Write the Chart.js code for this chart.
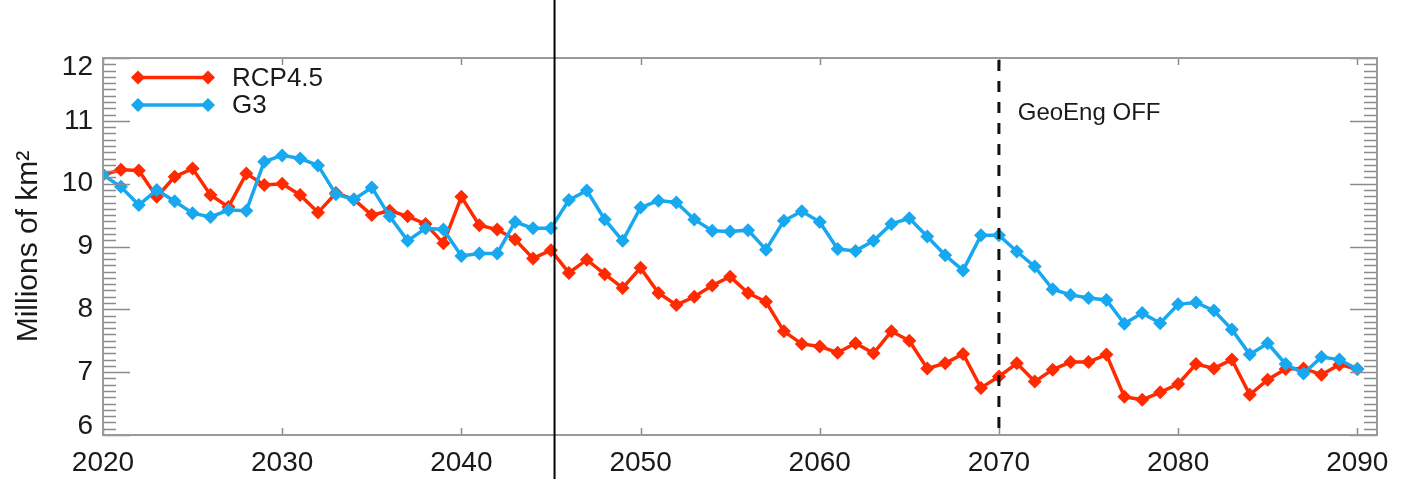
<!DOCTYPE html>
<html>
<head>
<meta charset="utf-8">
<script src="https://cdn.jsdelivr.net/npm/chart.js@4/dist/chart.umd.min.js"></script>
<style>
html,body{margin:0;padding:0;background:#fff;}
#wrap{width:1408px;height:479px;position:relative;}
</style>
</head>
<body>
<div id="wrap"><canvas id="c" width="1408" height="479"></canvas></div>
<script>
const years = [2020,2021,2022,2023,2024,2025,2026,2027,2028,2029,
  2030,2031,2032,2033,2034,2035,2036,2037,2038,2039,
  2040,2041,2042,2043,2044,2045,2046,2047,2048,2049,
  2050,2051,2052,2053,2054,2055,2056,2057,2058,2059,
  2060,2061,2062,2063,2064,2065,2066,2067,2068,2069,
  2070,2071,2072,2073,2074,2075,2076,2077,2078,2079,
  2080,2081,2082,2083,2084,2085,2086,2087,2088,2089,2090];

const rcp45 = [10.14,10.22,10.21,9.79,10.11,10.24,9.82,9.63,10.16,9.98,
  10.00,9.82,9.54,9.85,9.75,9.50,9.57,9.48,9.36,9.05,
  9.79,9.34,9.27,9.11,8.81,8.94,8.58,8.79,8.56,8.34,
  8.66,8.26,8.07,8.20,8.38,8.52,8.26,8.12,7.65,7.45,
  7.41,7.31,7.46,7.30,7.65,7.50,7.06,7.14,7.29,6.75,
  6.93,7.14,6.85,7.04,7.16,7.16,7.28,6.61,6.56,6.68,
  6.81,7.13,7.06,7.20,6.64,6.88,7.05,7.06,6.96,7.12,7.05];

const g3 = [10.14,9.95,9.66,9.90,9.72,9.53,9.47,9.58,9.57,10.35,
  10.45,10.40,10.29,9.83,9.75,9.94,9.48,9.09,9.29,9.27,
  8.85,8.89,8.89,9.39,9.29,9.29,9.74,9.89,9.43,9.09,
  9.62,9.73,9.70,9.43,9.25,9.24,9.26,8.95,9.41,9.56,
  9.39,8.96,8.93,9.09,9.36,9.45,9.16,8.86,8.62,9.18,
  9.18,8.92,8.68,8.32,8.23,8.18,8.15,7.77,7.94,7.78,
  8.08,8.11,7.98,7.68,7.28,7.46,7.13,6.98,7.24,7.20,7.05];

const xTickLabels = [2020,2030,2040,2050,2060,2070,2080,2090];
const yTickLabels = [6,7,8,9,10,11,12];
const seriesNames = ['RCP4.5','G3'];
const geoEngYear = 2070;
const geoEngText = 'GeoEng OFF';
const markerYear = 2045.2;

const RED = '#ff2a00';
const BLUE = '#17a8ef';
const FONT = "'Liberation Sans', Arial, Helvetica, sans-serif";

function pts(vals){ return years.map((y,i)=>({x:y, y:vals[i]})); }

const framePlugin = {
  id: 'frame',
  afterDatasetsDraw(chart){
    const ctx = chart.ctx, a = chart.chartArea;
    const xs = chart.scales.x, ys = chart.scales.y;
    ctx.save();
    ctx.strokeStyle = '#8c8c8c';
    ctx.lineWidth = 1.5;
    for (let k = 60; k <= 120; k++) {
      const v = k/10;
      const py = Math.round(ys.getPixelForValue(v)) + 0.5;
      const major = (k % 10 === 0);
      const len = major ? 27 : 13;
      ctx.beginPath();
      ctx.moveTo(a.left, py); ctx.lineTo(a.left + len, py);
      ctx.moveTo(a.right, py); ctx.lineTo(a.right - len, py);
      ctx.stroke();
    }
    xTickLabels.forEach(v => {
      const px = Math.round(xs.getPixelForValue(v)) + 0.5;
      ctx.beginPath();
      ctx.moveTo(px, a.bottom); ctx.lineTo(px, a.bottom - 7);
      ctx.moveTo(px, a.top); ctx.lineTo(px, a.top + 7);
      ctx.stroke();
    });
    ctx.strokeStyle = '#9a9a9a';
    ctx.lineWidth = 2;
    ctx.strokeRect(a.left, a.top, a.right - a.left, a.bottom - a.top);
    const gx = xs.getPixelForValue(geoEngYear);
    ctx.strokeStyle = '#111';
    ctx.lineWidth = 3;
    ctx.setLineDash([11, 10]);
    ctx.beginPath();
    ctx.moveTo(gx, a.top + 2); ctx.lineTo(gx, a.bottom);
    ctx.stroke();
    ctx.setLineDash([]);
    ctx.fillStyle = '#1a1a1a';
    ctx.font = '24px ' + FONT;
    ctx.textAlign = 'left';
    ctx.textBaseline = 'middle';
    ctx.fillText(geoEngText, xs.getPixelForValue(2071.05), ys.getPixelForValue(11.12));
    const items = [[RED, seriesNames[0]], [BLUE, seriesNames[1]]];
    items.forEach((it, i) => {
      const ly = a.top + 19.5 + i * 27.5;
      const x0 = a.left + 35, x1 = a.left + 105;
      ctx.strokeStyle = it[0];
      ctx.fillStyle = it[0];
      ctx.lineWidth = 3.5;
      ctx.beginPath(); ctx.moveTo(x0, ly); ctx.lineTo(x1, ly); ctx.stroke();
      [x0, x1].forEach(px => {
        ctx.beginPath();
        ctx.moveTo(px, ly - 7); ctx.lineTo(px + 7, ly); ctx.lineTo(px, ly + 7); ctx.lineTo(px - 7, ly);
        ctx.closePath(); ctx.fill();
      });
      ctx.fillStyle = '#1a1a1a';
      ctx.font = '26px ' + FONT;
      ctx.fillText(it[1], a.left + 129, ly + 1);
    });
    const mx = xs.getPixelForValue(markerYear);
    ctx.strokeStyle = '#000';
    ctx.lineWidth = 2;
    ctx.beginPath(); ctx.moveTo(mx, 0); ctx.lineTo(mx, chart.height); ctx.stroke();
    ctx.restore();
  }
};

new Chart(document.getElementById('c'), {
  type: 'line',
  data: {
    datasets: [
      { label: seriesNames[0], data: pts(rcp45), borderColor: RED, backgroundColor: RED,
        borderWidth: 3.5, pointStyle: 'rectRot', pointRadius: 7, pointBorderWidth: 0, tension: 0, order: 2 },
      { label: seriesNames[1], data: pts(g3), borderColor: BLUE, backgroundColor: BLUE,
        borderWidth: 3.5, pointStyle: 'rectRot', pointRadius: 7, pointBorderWidth: 0, tension: 0, order: 1 }
    ]
  },
  options: {
    responsive: false,
    animation: false,
    events: [],
    layout: { padding: { left: 0, right: 31, top: 58, bottom: 0 } },
    plugins: { legend: { display: false }, tooltip: { enabled: false } },
    scales: {
      x: {
        type: 'linear', min: 2020, max: 2091.1,
        afterFit(s){ s.height = 44; },
        afterBuildTicks(s){ s.ticks = xTickLabels.map(v => ({value: v})); },
        grid: { display: false, drawTicks: false },
        border: { display: false },
        ticks: { color: '#1a1a1a', padding: 11, maxRotation: 0, autoSkip: false,
          font: { family: FONT, size: 28 },
          callback(v){ return String(v); } }
      },
      y: {
        type: 'linear', min: 6, max: 12,
        afterFit(s){ s.width = 103; },
        afterBuildTicks(s){ s.ticks = yTickLabels.map(v => ({value: v})); },
        grid: { display: false, drawTicks: false },
        border: { display: false },
        title: { display: true, text: 'Millions of km²', color: '#1a1a1a',
          font: { family: FONT, size: 30 }, padding: { top: 11, bottom: 0 } },
        ticks: { color: '#1a1a1a', padding: 10, autoSkip: false,
          font: { family: FONT, size: 28, lineHeight: 0.65 },
          callback(v){
            if (v === 12) return ['', String(v)];
            if (v === 6) return [String(v), ''];
            return String(v);
          } }
      }
    }
  },
  plugins: [framePlugin]
});
</script>
</body>
</html>
